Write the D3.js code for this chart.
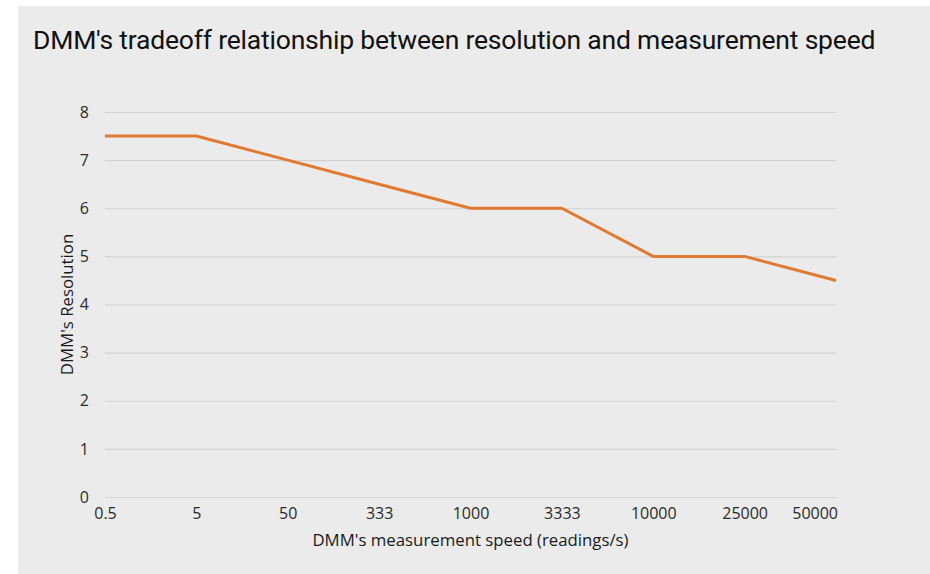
<!DOCTYPE html>
<html><head><meta charset="utf-8">
<script src="https://cdn.jsdelivr.net/npm/d3@7"></script>
<style>html,body{margin:0;padding:0;background:#fff;}svg{display:block;}</style>
</head><body>
<svg id="chart" width="930" height="574"></svg>
<script>
const title = "DMM's tradeoff relationship between resolution and measurement speed";
const categories = ["0.5", "5", "50", "333", "1000", "3333", "10000", "25000", "50000"];
const resolution = [7.5, 7.5, 7.0, 6.5, 6.0, 6.0, 5.0, 5.0, 4.5];
const yTicks = [0, 1, 2, 3, 4, 5, 6, 7, 8];
const xTitle = "DMM's measurement speed (readings/s)";
const yTitle = "DMM's Resolution";

const svg = d3.select("#chart");
const W = 930, H = 574;
const m = {left: 105, right: 836, top: 112, bottom: 497};

svg.append("rect").attr("x", 18).attr("y", 6).attr("width", W - 18).attr("height", H - 6).attr("fill", "#ebebeb");

svg.append("text").attr("x", 33).attr("y", 49)
  .attr("font-family", "Roboto, 'Noto Sans', sans-serif").attr("font-size", 26.5)
  .attr("letter-spacing", -0.2)
  .attr("fill", "#111").text(title);

const x = d3.scalePoint().domain(categories).range([m.left, m.right]).padding(0);
const y = d3.scaleLinear().domain([0, 8]).range([m.bottom, m.top]);

const axisFont = "'Open Sans', 'Liberation Sans', sans-serif";

// gridlines
const yAxis = d3.axisLeft(y).tickValues(yTicks).tickSize(-(m.right - m.left)).tickPadding(10).tickFormat(d3.format("d"));
const gy = svg.append("g").attr("transform", `translate(${m.left},0)`).call(yAxis);
gy.select(".domain").remove();
gy.selectAll(".tick line").attr("stroke", "#d2d2d2").attr("stroke-width", 1.2);
gy.selectAll(".tick text").attr("font-family", axisFont).attr("font-size", 16).attr("fill", "#2a2a2a").attr("x", -16);

const xAxis = d3.axisBottom(x).tickSize(0).tickPadding(11);
const gx = svg.append("g").attr("transform", `translate(0,${m.bottom})`).call(xAxis);
gx.select(".domain").remove();
gx.selectAll(".tick text").attr("font-family", axisFont).attr("font-size", 16).attr("fill", "#2a2a2a");
// keep last label within the plot area like the original
gx.selectAll(".tick text").each(function() {
  const bb = this.getBBox();
  const tx = +d3.select(this.parentNode).attr("transform").match(/translate\(([^,]+)/)[1];
  const right = tx + bb.x + bb.width;
  if (right > m.right + 2) d3.select(this).attr("x", (m.right + 2) - right);
});

const line = d3.line().x((d, i) => x(categories[i])).y(d => y(d));
svg.append("path").datum(resolution).attr("d", line)
  .attr("fill", "none").attr("stroke", "#e07a30").attr("stroke-width", 3).attr("stroke-linejoin", "round");

svg.append("text").attr("x", (m.left + m.right) / 2).attr("y", 546)
  .attr("text-anchor", "middle").attr("font-family", axisFont).attr("font-size", 16.8).attr("fill", "#1a1a1a").text(xTitle);

svg.append("text").attr("transform", `translate(73,${(m.top + m.bottom) / 2}) rotate(-90)`)
  .attr("text-anchor", "middle").attr("font-family", axisFont).attr("font-size", 16.8).attr("fill", "#1a1a1a").text(yTitle);
</script>
</body></html>
